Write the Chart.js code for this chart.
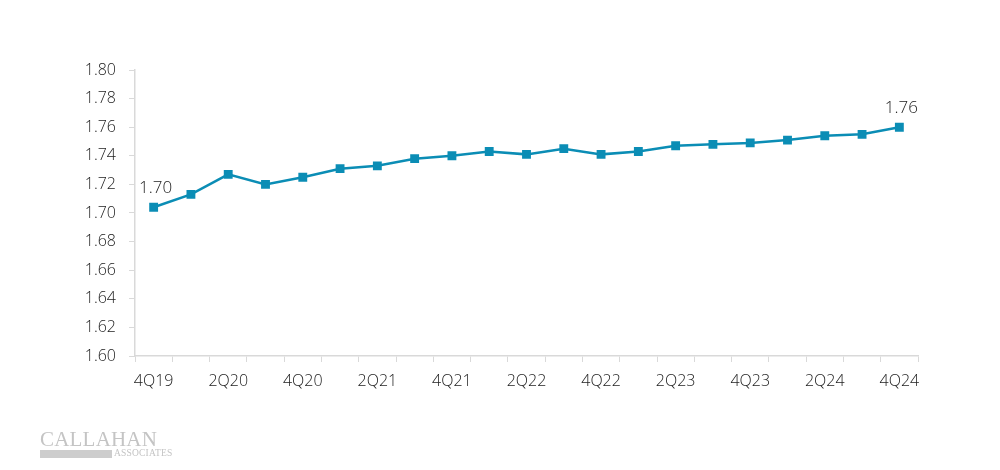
<!DOCTYPE html>
<html>
<head>
<meta charset="utf-8">
<script src="https://cdn.jsdelivr.net/npm/chart.js@4"></script>
<style>
  html, body { margin: 0; padding: 0; background: #fff; }
  #wrap { position: relative; width: 1000px; height: 470px; }
  #logo { position: absolute; left: 40px; top: 430px; color: #c4c4c4; font-family: 'Liberation Serif', serif; }
  #logo .name { font-size: 21px; letter-spacing: 0.2px; line-height: 18px; }
  #logo .bar { display: flex; align-items: center; height: 9px; margin-top: 1px; }
  #logo .bar span.fill { display: inline-block; width: 72px; height: 8px; background: #cdcdcd; }
  #logo .bar span.txt { font-size: 9.5px; line-height: 9px; margin-left: 2px; letter-spacing: 0.2px; }
</style>
</head>
<body>
<div id="wrap">
  <canvas id="ratioChart" width="1000" height="470"></canvas>
  <div id="logo">
    <div class="name">CALLAHAN</div>
    <div class="bar"><span class="fill"></span><span class="txt">ASSOCIATES</span></div>
  </div>
</div>
<script>
// Quarterly values
const quarters = ['4Q19', '1Q20', '2Q20', '3Q20', '4Q20', '1Q21', '2Q21', '3Q21', '4Q21', '1Q22', '2Q22',
    '3Q22', '4Q22', '1Q23', '2Q23', '3Q23', '4Q23', '1Q24', '2Q24', '3Q24', '4Q24'];
const values = [1.704, 1.713, 1.727, 1.720, 1.725, 1.731, 1.733, 1.738, 1.740, 1.743, 1.741,
    1.745, 1.741, 1.743, 1.747, 1.748, 1.749, 1.751, 1.754, 1.755, 1.760];
const yMin = 1.60;
const yMax = 1.80;
const yStep = 0.02;

const lineColor = '#0b8db5';
const textColor = '#222222';
const axisColor = '#d9d9d9';
const fontFamily = "'Open Sans', sans-serif";

// labels for first and last point
const endLabels = {
    id: 'endLabels',
    afterDatasetsDraw(chart) {
        const ctx = chart.ctx;
        const meta = chart.getDatasetMeta(0);
        const ds = chart.data.datasets[0].data;
        ctx.save();
        ctx.font = "300 17px " + fontFamily;
        ctx.fillStyle = textColor;
        ctx.textAlign = 'center';
        ctx.textBaseline = 'middle';
        [0, ds.length - 1].forEach(function (i) {
            const pt = meta.data[i];
            ctx.fillText(ds[i].toFixed(2), pt.x + 2, pt.y - 19);
        });
        ctx.restore();
    }
};

new Chart(document.getElementById('ratioChart'), {
    type: 'line',
    data: {
        labels: quarters,
        datasets: [{
            data: values,
            borderColor: lineColor,
            borderWidth: 2.5,
            pointStyle: 'rect',
            pointRadius: 4.5,
            pointBackgroundColor: lineColor,
            pointBorderColor: lineColor,
            tension: 0,
            fill: false
        }]
    },
    options: {
        responsive: false,
        animation: false,
        layout: { padding: { top: 70, right: 82, bottom: 0, left: 0 } },
        plugins: {
            legend: { display: false },
            tooltip: { enabled: false }
        },
        scales: {
            x: {
                offset: true,
                afterFit: function (scale) { scale.height = 114; },
                border: { color: axisColor, width: 1.5 },
                grid: { display: true, offset: true, drawOnChartArea: false, tickLength: 6, color: axisColor },
                ticks: {
                    autoSkip: false,
                    maxRotation: 0,
                    padding: 10,
                    color: textColor,
                    font: { family: fontFamily, size: 16, weight: 300 },
                    callback: function (v, i) { return i % 2 === 0 ? quarters[i] : ''; }
                }
            },
            y: {
                min: yMin,
                max: yMax,
                afterFit: function (scale) { scale.width = 135; },
                border: { color: axisColor, width: 1.5 },
                grid: { display: true, drawOnChartArea: false, tickLength: 6, color: axisColor },
                ticks: {
                    stepSize: yStep,
                    padding: 13,
                    color: textColor,
                    font: { family: fontFamily, size: 16, weight: 300 },
                    callback: function (v) { return v.toFixed(2); }
                }
            }
        }
    },
    plugins: [endLabels]
});
</script>
</body>
</html>
